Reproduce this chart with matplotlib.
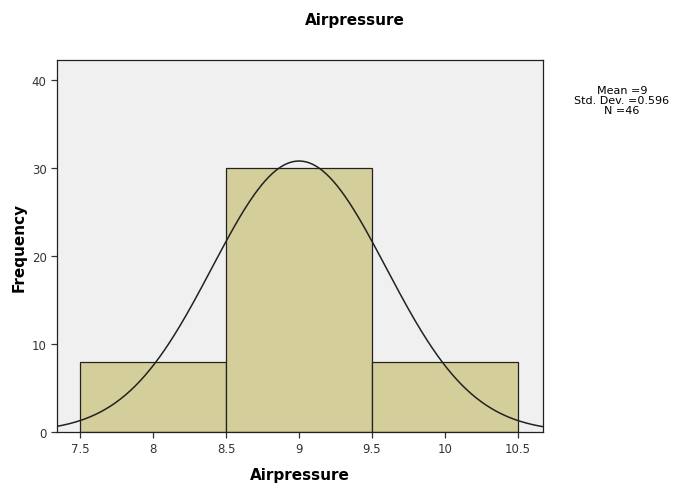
import matplotlib.pyplot as plt
import numpy as np

# histogram of Airpressure with normal curve
bin_edges = [7.5, 8.5, 9.5, 10.5]
counts = [8, 30, 8]
mean = 9
std_dev = 0.596
n_obs = 46

fig = plt.figure(figsize=(6.76, 4.85), dpi=100)
ax = fig.add_axes([57 / 676, 52 / 485, 486 / 676, 372 / 485])
ax.set_facecolor("#f0f0f0")

widths = np.diff(bin_edges)
ax.bar(bin_edges[:-1], counts, width=widths, align="edge",
       color="#d3ce9a", edgecolor="#222222", linewidth=0.9)

xs = np.linspace(7.342, 10.671, 400)
binw = widths[0]
ys = n_obs * binw / (std_dev * np.sqrt(2 * np.pi)) * np.exp(-0.5 * ((xs - mean) / std_dev) ** 2)
ax.plot(xs, ys, color="#222222", lw=1.1)

ax.set_xlim(7.342, 10.671)
ax.set_ylim(0, 42.27)
ax.set_xticks([7.5, 8, 8.5, 9, 9.5, 10, 10.5])
ax.set_xticklabels(["7.5", "8", "8.5", "9", "9.5", "10", "10.5"])
ax.set_yticks([0, 10, 20, 30, 40])
ax.tick_params(labelsize=8.5, colors="#333333", length=4, width=0.9)
for s in ax.spines.values():
    s.set_color("#222222")
    s.set_linewidth(0.9)

ax.set_xlabel("Airpressure", fontsize=11, fontweight="bold", labelpad=8)
ax.set_ylabel("Frequency", fontsize=11, fontweight="bold", labelpad=4)
fig.text(355 / 676, 1 - 20 / 485, "Airpressure", ha="center", va="center",
         fontsize=11, fontweight="bold")
fig.text(622 / 676, 1 - 101 / 485,
         "Mean =%g\nStd. Dev. =%.3f\nN =%d" % (mean, std_dev, n_obs),
         ha="center", va="center", fontsize=8, linespacing=1.0)

fig.savefig("out.png", dpi=100)
plt.close()
